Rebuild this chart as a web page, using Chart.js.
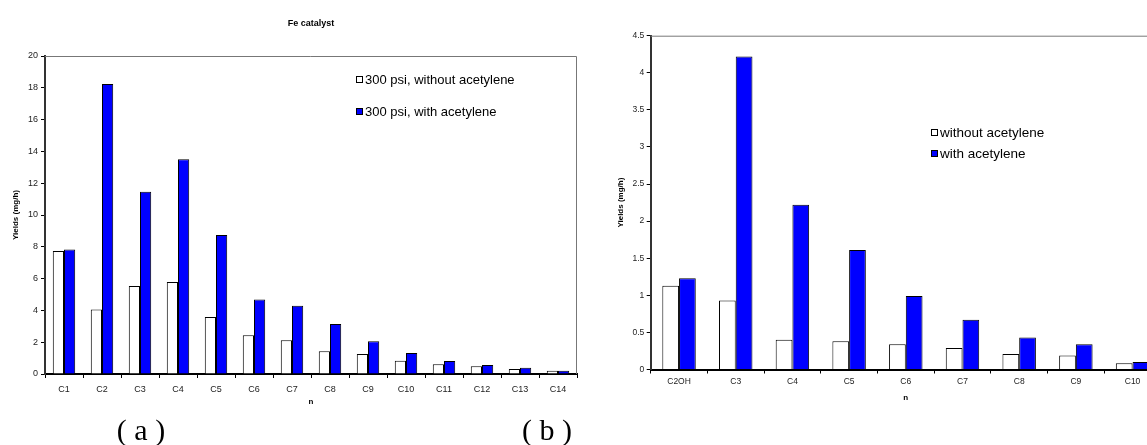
<!DOCTYPE html>
<html>
<head>
<meta charset="utf-8">
<title>Fe catalyst yields</title>
<script src="https://cdn.jsdelivr.net/npm/chart.js"></script>
<style>
    html, body { margin: 0; padding: 0; background: #fff; overflow: hidden; }
    body { position: relative; width: 1147px; height: 445px; }
    canvas { position: absolute; top: 0; }
    #chartA { left: 0; }
    #chartB { left: 600px; }
    .legend { position: absolute; font-family: Arial, "Liberation Sans", sans-serif; color: #000; }
    .legend-item { position: absolute; left: 0; height: 16px; display: flex; align-items: center; white-space: nowrap; }
    .legend-box { width: 7px; height: 7px; box-sizing: border-box; border: 1px solid #000; margin-right: 2px; }
    #legendA { left: 356px; top: 71px; font-size: 13px; }
    #legendB { left: 931px; top: 124px; font-size: 13.5px; }
    .panel-tag { position: absolute; top: 413px; line-height: 34px; transform: translateX(-50%);
                 font-family: "Liberation Serif", "Times New Roman", serif; font-size: 30px; white-space: pre; }
</style>
</head>
<body>
<canvas id="chartA" width="600" height="445"></canvas>
<canvas id="chartB" width="580" height="445"></canvas>
<div id="legendA" class="legend"></div>
<div id="legendB" class="legend"></div>
<div class="panel-tag" style="left: 141px;">( a )</div>
<div class="panel-tag" style="left: 547px;">( b )</div>

<script>
// Fe catalyst, 300 psi
const carbonsA = ['C1', 'C2', 'C3', 'C4', 'C5', 'C6', 'C7', 'C8', 'C9', 'C10', 'C11', 'C12', 'C13', 'C14'];
const withoutAcetyleneA = [7.73, 4.06, 5.54, 5.79, 3.58, 2.44, 2.13, 1.43, 1.26, 0.84, 0.61, 0.49, 0.32, 0.21];
const withAcetyleneA = [7.83, 18.24, 11.47, 13.51, 8.74, 4.69, 4.29, 3.14, 2.06, 1.32, 0.82, 0.57, 0.40, 0.21];
const yMaxA = 20;
const yStepA = 2;

// oxygenate + hydrocarbons
const carbonsB = ['C2OH', 'C3', 'C4', 'C5', 'C6', 'C7', 'C8', 'C9', 'C10'];
const withoutAcetyleneB = [1.13, 0.93, 0.40, 0.38, 0.34, 0.29, 0.21, 0.19, 0.085];
const withAcetyleneB = [1.23, 4.22, 2.22, 1.61, 0.99, 0.67, 0.43, 0.34, 0.10];
const yMaxB = 4.5;
const yStepB = 0.5;

Chart.defaults.font.family = 'Arial, "Liberation Sans", sans-serif';
Chart.defaults.color = '#000';

// grey frame on the top and right of the plot area
const plotFrame = {
    id: 'plotFrame',
    beforeDatasetsDraw(chart) {
        const { ctx, chartArea } = chart;
        ctx.save();
        ctx.strokeStyle = '#777';
        ctx.lineWidth = 1;
        ctx.beginPath();
        ctx.moveTo(chartArea.left, chartArea.top + 0.5);
        ctx.lineTo(chartArea.right - 0.5, chartArea.top + 0.5);
        ctx.lineTo(chartArea.right - 0.5, chartArea.bottom);
        ctx.stroke();
        ctx.restore();
    }
};

function makeChart(canvasId, labels, series, cfg) {
    const ctx = document.getElementById(canvasId);
    return new Chart(ctx, {
        type: 'bar',
        data: {
            labels: labels,
            datasets: series.map(s => ({
                label: s.label,
                data: s.data,
                backgroundColor: s.color,
                borderColor: '#000',
                borderWidth: 1,
                categoryPercentage: 0.59,
                barPercentage: 1
            }))
        },
        plugins: [plotFrame],
        options: {
            responsive: false,
            animation: false,
            events: [],
            layout: {
                padding: cfg.padding
            },
            plugins: {
                legend: { display: false },
                tooltip: { enabled: false },
                title: cfg.title || { display: false }
            },
            scales: {
                x: {
                    offset: true,
                    grid: {
                        offset: true,
                        drawOnChartArea: false,
                        tickLength: 4,
                        color: '#000'
                    },
                    border: { color: '#000', width: 2 },
                    ticks: {
                        font: { size: cfg.xFont },
                        color: '#222',
                        padding: cfg.xPad,
                        maxRotation: 0,
                        autoSkip: false
                    },
                    title: {
                        display: true,
                        text: 'n',
                        font: { size: 8, weight: 'bold' },
                        padding: { top: 0, bottom: cfg.nPad }
                    },
                    afterFit: scale => { scale.height = 36; }
                },
                y: {
                    min: 0,
                    max: cfg.yMax,
                    ticks: {
                        stepSize: cfg.yStep,
                        font: { size: cfg.yFont },
                        color: '#222',
                        padding: cfg.yPad,
                        // plain numbers: 0, 0.5, 1, 1.5 ...
                        callback: value => String(value)
                    },
                    grid: {
                        drawOnChartArea: false,
                        tickLength: 4,
                        color: '#000'
                    },
                    border: { color: '#333', width: 2 },
                    title: {
                        display: true,
                        text: 'Yields (mg/h)',
                        font: { size: 8, weight: 'bold' },
                        padding: { top: cfg.yTitlePad, bottom: 0 }
                    },
                    afterFit: scale => { scale.width = cfg.yWidth; }
                }
            }
        }
    });
}

// Legend drawn as html next to the plot, taken from the datasets
function buildLegend(chart, containerId, spacing) {
    const box = document.getElementById(containerId);
    chart.data.datasets.forEach((ds, i) => {
        const item = document.createElement('div');
        item.className = 'legend-item';
        item.style.top = (i * spacing) + 'px';
        const swatch = document.createElement('span');
        swatch.className = 'legend-box';
        swatch.style.background = ds.backgroundColor;
        const text = document.createElement('span');
        text.textContent = ds.label;
        item.appendChild(swatch);
        item.appendChild(text);
        box.appendChild(item);
    });
}

const chartA = makeChart('chartA', carbonsA, [
    { label: '300 psi, without acetylene', data: withoutAcetyleneA, color: '#ffffff' },
    { label: '300 psi, with acetylene', data: withAcetyleneA, color: '#0000ff' }
], {
    padding: { top: 0, right: 23, bottom: 35, left: 0 },
    title: {
        display: true,
        text: 'Fe catalyst',
        fullSize: false,
        color: '#000',
        font: { size: 9, weight: 'bold' },
        padding: { top: 18.6, bottom: 26.6 }
    },
    yMax: yMaxA, yStep: yStepA,
    xFont: 9, xPad: 6.6, nPad: 3.5,
    yFont: 9, yPad: 3, yTitlePad: 11.2, yWidth: 45
});

const chartB = makeChart('chartB', carbonsB, [
    { label: 'without acetylene', data: withoutAcetyleneB, color: '#ffffff' },
    { label: 'with acetylene', data: withAcetyleneB, color: '#0000ff' }
], {
    padding: { top: 35.7, right: 19.1, bottom: 39.5, left: 0 },
    yMax: yMaxB, yStep: yStepB,
    xFont: 8.5, xPad: 3.4, nPad: 2.7,
    yFont: 8.5, yPad: 2.4, yTitlePad: 16.2, yWidth: 50.7
});

buildLegend(chartA, 'legendA', 32);
buildLegend(chartB, 'legendB', 21.6);
</script>
</body>
</html>
